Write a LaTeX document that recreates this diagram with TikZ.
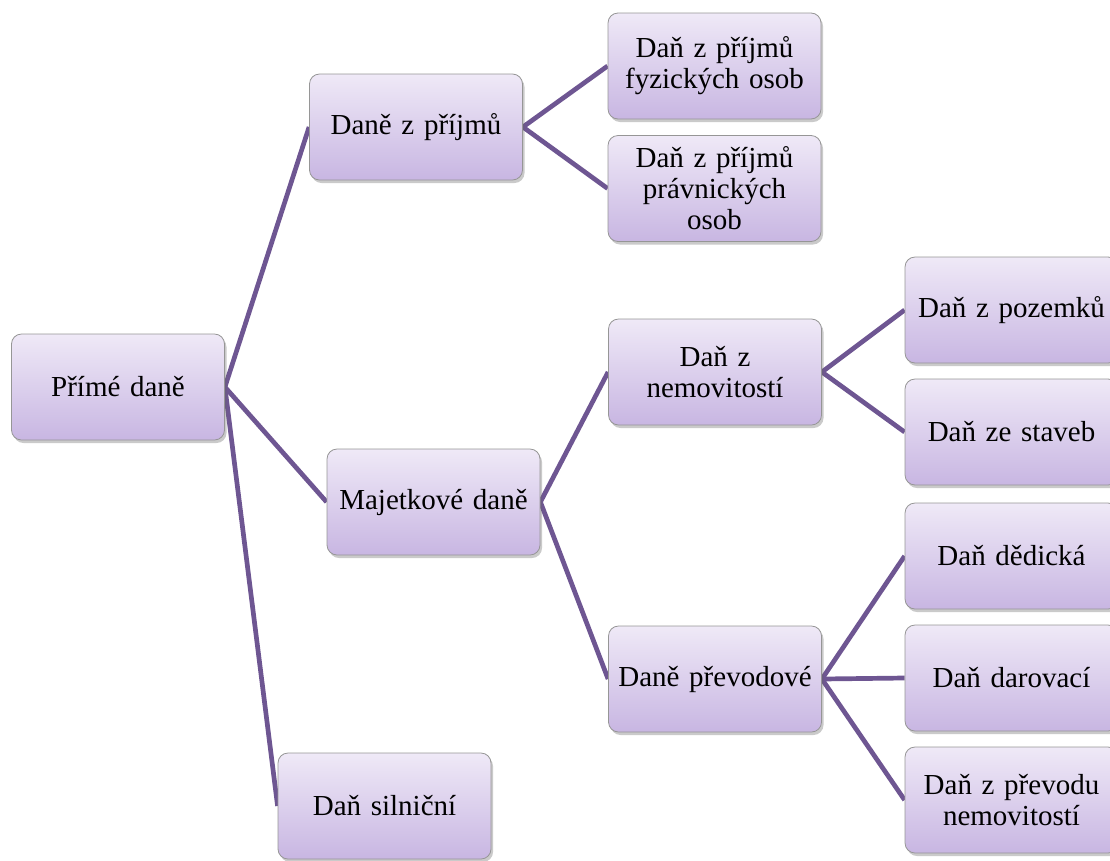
\documentclass[tikz,border=0pt]{standalone}
\usepackage{fontspec}
\setmainfont{Liberation Serif}
\usetikzlibrary{shadows,backgrounds}
\definecolor{boxtop}{RGB}{239,233,247}
\definecolor{boxbot}{RGB}{200,182,226}
\definecolor{boxline}{RGB}{150,150,150}
\definecolor{conn}{RGB}{110,86,146}
\tikzset{
  box/.style={draw=boxline, line width=0.8pt, rounded corners=10pt,
    top color=boxtop, bottom color=boxbot,
    minimum width=213pt, minimum height=106pt, text width=205pt, align=center,
    inner sep=0pt, font=\fontsize{29}{31}\selectfont,
    drop shadow={shadow xshift=2pt, shadow yshift=-3pt, opacity=0.35, fill=black!60}},
  link/.style={draw=conn, line width=4.7pt}
}
\begin{document}
\begin{tikzpicture}[x=1pt,y=-1pt]
\useasboundingbox (0,0) rectangle (1110,860);
\node[box] (prime) at (118,387) {Přímé daně};
\node[box] (prij) at (416,127) {Daně z příjmů};
\node[box] (majet) at (433.5,502) {Majetkové daně};
\node[box] (silni) at (384.5,806) {Daň silniční};
\node[box] (fyz) at (714.5,66) {Daň z příjmů\\fyzických osob};
\node[box] (prav) at (714.5,188.5) {Daň z příjmů\\právnických\\osob};
\node[box] (nemo) at (715,372) {Daň z\\nemovitostí};
\node[box] (prev) at (715,679) {Daně převodové};
\node[box] (poz) at (1011.5,310) {Daň z pozemků};
\node[box] (stav) at (1011.5,432) {Daň ze staveb};
\node[box] (dedi) at (1011.5,556) {Daň dědická};
\node[box] (daro) at (1011.5,678) {Daň darovací};
\node[box] (preno) at (1011.5,800) {Daň z převodu\\nemovitostí};
\begin{scope}[on background layer]
\draw[link] (prime.east) -- (prij.west);
\draw[link] (prime.east) -- (majet.west);
\draw[link] (prime.east) -- (silni.west);
\draw[link] (prij.east) -- (fyz.west);
\draw[link] (prij.east) -- (prav.west);
\draw[link] (majet.east) -- (nemo.west);
\draw[link] (majet.east) -- (prev.west);
\draw[link] (nemo.east) -- (poz.west);
\draw[link] (nemo.east) -- (stav.west);
\draw[link] (prev.east) -- (dedi.west);
\draw[link] (prev.east) -- (daro.west);
\draw[link] (prev.east) -- (preno.west);
\end{scope}
\end{tikzpicture}
\end{document}
